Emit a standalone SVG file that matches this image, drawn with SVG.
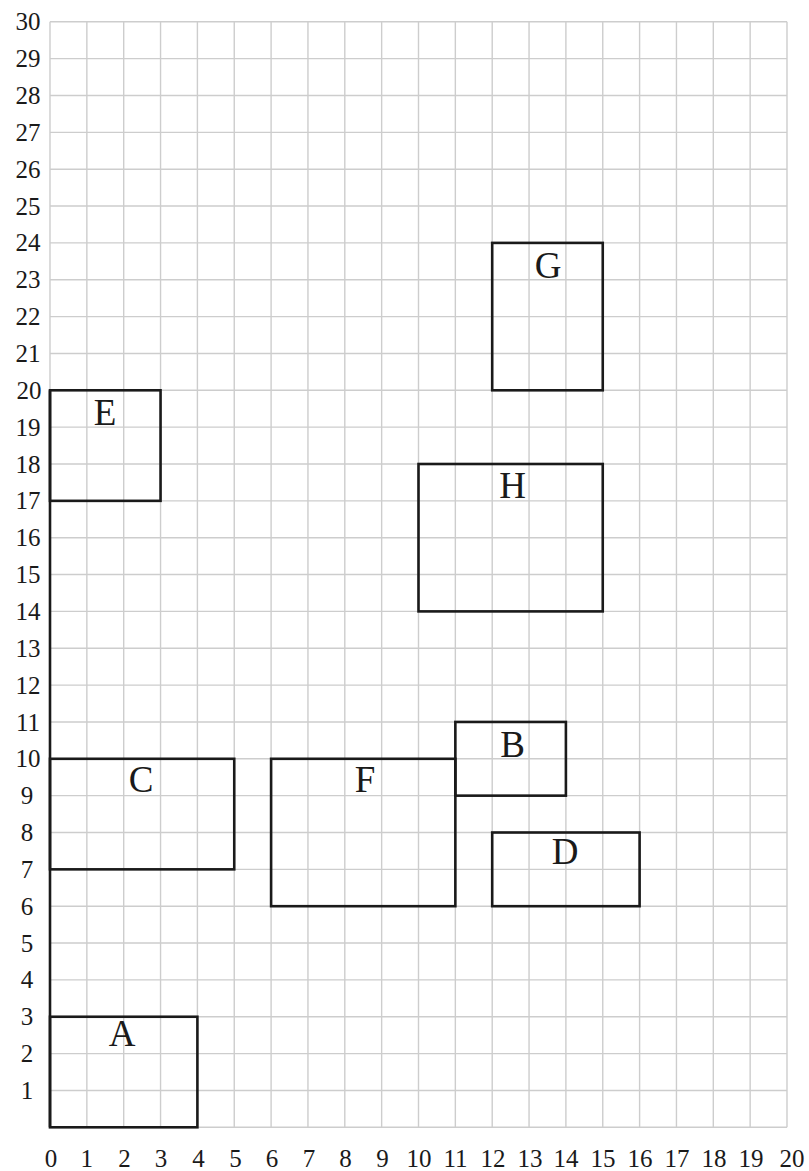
<svg xmlns="http://www.w3.org/2000/svg" width="809" height="1171" viewBox="0 0 809 1171">
<style>
.grid{stroke:#cdcdcd;stroke-width:1.4;fill:none}
.box{fill:none;stroke:#1a1a1a;stroke-width:2.6}
.num{font-family:"Liberation Serif","Times New Roman",serif;font-size:25px;fill:#1a1a1a;text-anchor:middle}
.lbl{font-family:"Liberation Serif","Times New Roman",serif;font-size:37px;fill:#1a1a1a;text-anchor:middle}
</style>
<rect width="809" height="1171" fill="#ffffff"/>
<g id="grid">
<path class="grid" d="M50 21.8V1127.3M86.85 21.8V1127.3M123.7 21.8V1127.3M160.55 21.8V1127.3M197.4 21.8V1127.3M234.25 21.8V1127.3M271.1 21.8V1127.3M307.95 21.8V1127.3M344.8 21.8V1127.3M381.65 21.8V1127.3M418.5 21.8V1127.3M455.35 21.8V1127.3M492.2 21.8V1127.3M529.05 21.8V1127.3M565.9 21.8V1127.3M602.75 21.8V1127.3M639.6 21.8V1127.3M676.45 21.8V1127.3M713.3 21.8V1127.3M750.15 21.8V1127.3M787 21.8V1127.3"/>
<path class="grid" d="M50 1127.3H787M50 1090.45H787M50 1053.6H787M50 1016.75H787M50 979.9H787M50 943.05H787M50 906.2H787M50 869.35H787M50 832.5H787M50 795.65H787M50 758.8H787M50 721.95H787M50 685.1H787M50 648.25H787M50 611.4H787M50 574.55H787M50 537.7H787M50 500.85H787M50 464H787M50 427.15H787M50 390.3H787M50 353.45H787M50 316.6H787M50 279.75H787M50 242.9H787M50 206.05H787M50 169.2H787M50 132.35H787M50 95.5H787M50 58.65H787M50 21.8H787"/>
</g>
<g id="y-axis-labels">
<text class="num" x="27" y="1099">1</text>
<text class="num" x="27" y="1062.1">2</text>
<text class="num" x="27" y="1025.3">3</text>
<text class="num" x="27" y="988.4">4</text>
<text class="num" x="27" y="951.6">5</text>
<text class="num" x="27" y="914.7">6</text>
<text class="num" x="27" y="877.9">7</text>
<text class="num" x="27" y="841">8</text>
<text class="num" x="27" y="804.2">9</text>
<text class="num" x="28" y="767.3">10</text>
<text class="num" x="28" y="730.5">11</text>
<text class="num" x="28" y="693.6">12</text>
<text class="num" x="28" y="656.8">13</text>
<text class="num" x="28" y="619.9">14</text>
<text class="num" x="28" y="583.1">15</text>
<text class="num" x="28" y="546.2">16</text>
<text class="num" x="28" y="509.4">17</text>
<text class="num" x="28" y="472.5">18</text>
<text class="num" x="28" y="435.7">19</text>
<text class="num" x="29" y="398.8">20</text>
<text class="num" x="28" y="362">21</text>
<text class="num" x="28" y="325.1">22</text>
<text class="num" x="28" y="288.3">23</text>
<text class="num" x="28" y="251.4">24</text>
<text class="num" x="28" y="214.6">25</text>
<text class="num" x="28" y="177.7">26</text>
<text class="num" x="28" y="140.9">27</text>
<text class="num" x="28" y="104">28</text>
<text class="num" x="28" y="67.2">29</text>
<text class="num" x="28" y="30.3">30</text>
</g>
<g id="x-axis-labels">
<text class="num" x="51" y="1167">0</text>
<text class="num" x="86.85" y="1167">1</text>
<text class="num" x="124.5" y="1167">2</text>
<text class="num" x="161" y="1167">3</text>
<text class="num" x="198.5" y="1167">4</text>
<text class="num" x="235.5" y="1167">5</text>
<text class="num" x="272" y="1167">6</text>
<text class="num" x="309" y="1167">7</text>
<text class="num" x="345.5" y="1167">8</text>
<text class="num" x="382.5" y="1167">9</text>
<text class="num" x="419" y="1167">10</text>
<text class="num" x="455.5" y="1167">11</text>
<text class="num" x="493" y="1167">12</text>
<text class="num" x="530" y="1167">13</text>
<text class="num" x="566" y="1167">14</text>
<text class="num" x="603" y="1167">15</text>
<text class="num" x="640" y="1167">16</text>
<text class="num" x="677" y="1167">17</text>
<text class="num" x="714" y="1167">18</text>
<text class="num" x="751" y="1167">19</text>
<text class="num" x="792" y="1167">20</text>
</g>
<g id="axis">
<path class="box" d="M50 390.3V1127.3"/>
</g>
<g id="connectors"></g>
<g id="node-G">
<rect class="box" x="492.2" y="242.9" width="110.55" height="147.4"/>
<text class="lbl" x="548" y="278">G</text>
</g>
<g id="node-E">
<rect class="box" x="50" y="390.3" width="110.55" height="110.55"/>
<text class="lbl" x="105" y="425">E</text>
</g>
<g id="node-H">
<rect class="box" x="418.5" y="464" width="184.25" height="147.4"/>
<text class="lbl" x="512.5" y="498">H</text>
</g>
<g id="node-B">
<rect class="box" x="455.35" y="721.95" width="110.55" height="73.7"/>
<text class="lbl" x="512.5" y="757">B</text>
</g>
<g id="node-C">
<rect class="box" x="50" y="758.8" width="184.25" height="110.55"/>
<text class="lbl" x="141" y="791.5">C</text>
</g>
<g id="node-F">
<rect class="box" x="271.1" y="758.8" width="184.25" height="147.4"/>
<text class="lbl" x="365" y="791.5">F</text>
</g>
<g id="node-D">
<rect class="box" x="492.2" y="832.5" width="147.4" height="73.7"/>
<text class="lbl" x="565" y="864">D</text>
</g>
<g id="node-A">
<rect class="box" x="50" y="1016.75" width="147.4" height="110.55"/>
<text class="lbl" x="122" y="1046">A</text>
</g>
</svg>
